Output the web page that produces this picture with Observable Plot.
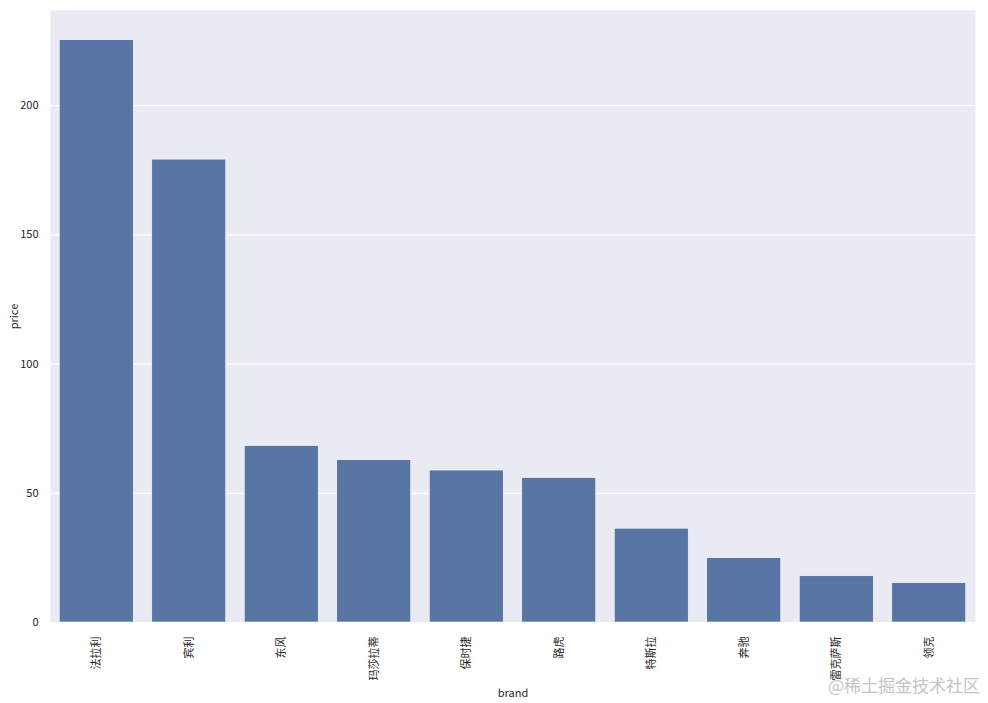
<!DOCTYPE html>
<html>
<head>
<meta charset="utf-8">
<script src="https://cdn.jsdelivr.net/npm/d3@7"></script>
<script src="https://cdn.jsdelivr.net/npm/@observablehq/plot@0.6"></script>
<style>
  html, body { margin: 0; padding: 0; background: #fff; }
  #wrap { position: relative; width: 988px; height: 703px; }
  #wm { position: absolute; right: 8px; top: 672px; font: 17px "Noto Sans CJK SC", sans-serif; color: #c4c4c4; }
</style>
</head>
<body>
<div id="wrap"><div id="wm">@稀土掘金技术社区</div></div>
<script>
const brands = ["法拉利", "宾利", "东风", "玛莎拉蒂", "保时捷", "路虎", "特斯拉", "奔驰", "雷克萨斯", "领克"];
const prices = [225.3, 179.1, 68.3, 62.8, 58.8, 55.9, 36.3, 24.9, 17.9, 15.2];
const yTicks = [0, 50, 100, 150, 200];

const data = brands.map((b, i) => ({brand: b, price: prices[i]}));

const chart = Plot.plot({
  width: 988,
  height: 703,
  marginLeft: 50,
  marginRight: 13,
  marginTop: 10,
  marginBottom: 81,
  style: {fontFamily: "'Noto Sans CJK SC', 'DejaVu Sans', sans-serif", fontSize: "11px", color: "#262626", background: "#fff"},
  x: {domain: brands, paddingInner: 0.2, paddingOuter: 0.1, round: false, label: null},
  y: {domain: [0, 236.8], label: null},
  marks: [
    Plot.frame({fill: "#EAEAF2", stroke: null}),
    Plot.ruleY(yTicks, {stroke: "white", strokeWidth: 1.2}),
    Plot.barY(data, {x: "brand", y: "price", fill: "#5975A4", stroke: "#ffffff", strokeWidth: 0.6}),
    Plot.axisY(yTicks, {tickSize: 0, tickPadding: 12, label: "price", labelAnchor: "center", labelArrow: "none", labelOffset: 40, fontSize: 11}),
    Plot.axisX({tickSize: 0, tickRotate: -90, tickPadding: 14, label: "brand", labelAnchor: "center", labelArrow: "none", labelOffset: 74, fontSize: 11})
  ]
});
document.getElementById("wrap").prepend(chart);
</script>
</body>
</html>
